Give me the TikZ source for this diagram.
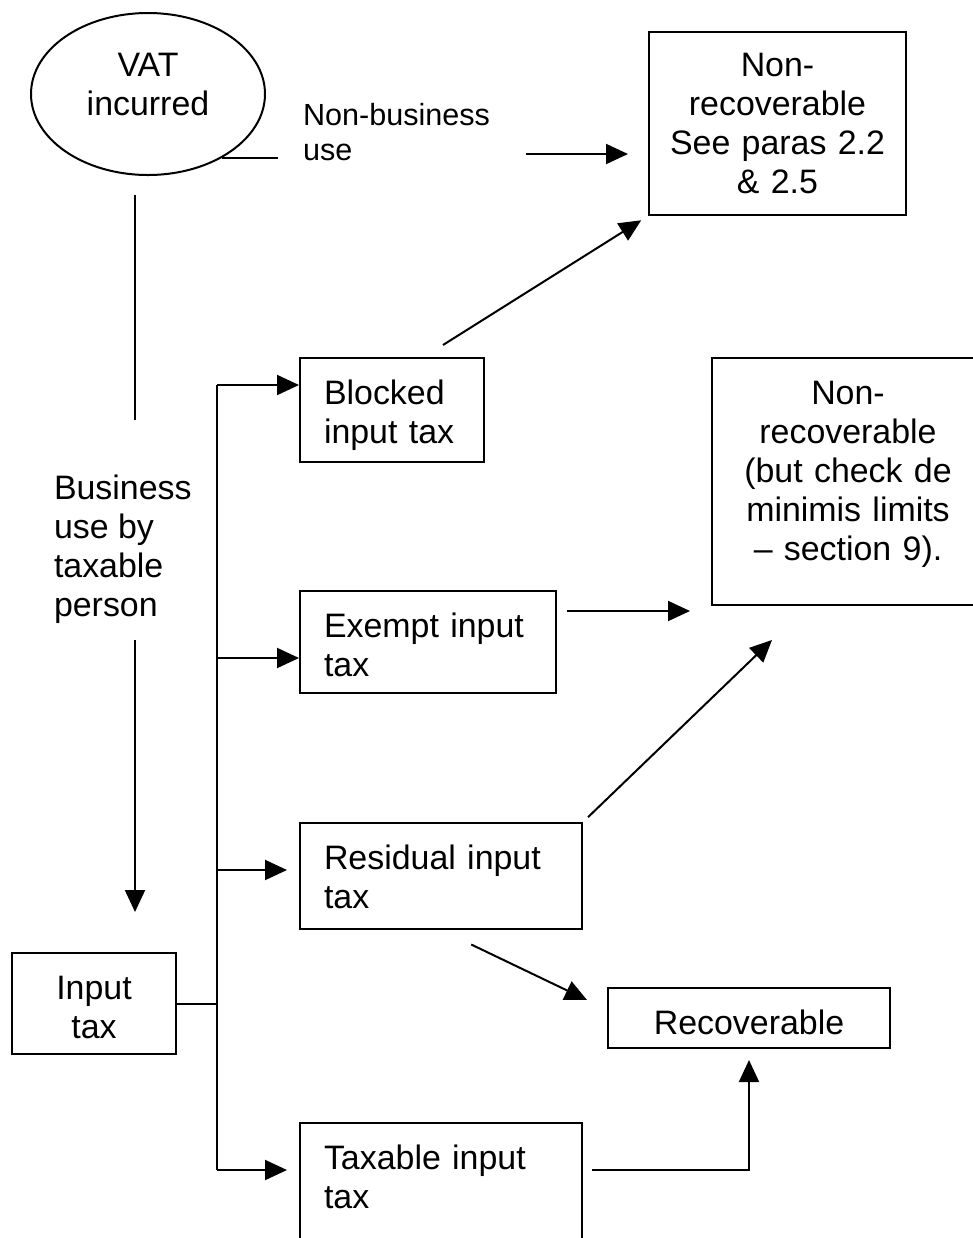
\documentclass[tikz,border=0pt]{standalone}
\usepackage{fontspec}
\setmainfont{Liberation Sans}
\usetikzlibrary{arrows.meta, shapes.geometric}

\tikzset{
  box/.style={draw, anchor=north west, inner xsep=4.8mm, inner ysep=0pt, text height=9.2mm, align=left},
  cbox/.style={box, inner xsep=0pt, align=center},
  arr/.style={-{Triangle[length=4.4mm,width=4mm]}},
  plain/.style={inner sep=0pt, align=left}
}

\begin{document}
\begin{tikzpicture}[x=0.2mm, y=-0.2mm, line width=0.4mm, font=\fontsize{19.3}{22.2}\selectfont]
\useasboundingbox (0,0) rectangle (972,1238);

% top: VAT incurred and non-business use
\node[draw, ellipse, inner sep=0pt, minimum width=46.8mm, minimum height=32.4mm] (vat) at (148,94) {};
\node[align=center, inner sep=0pt] (vattext) at (148,84) {VAT\\incurred};
\node[plain, anchor=north west, font=\fontsize{17.4}{19.9}\selectfont] (nbu) at (302,102) {Non-business\\use};
\node[cbox, text width=51.4mm, text height=8.8mm, text depth=27.8mm] (nr1) at (648,31) {Non-\\recoverable\\See paras 2.2\\\& 2.5};

% business use
\node[plain, anchor=north west] (business) at (53,474) {Business\\use by\\taxable\\person};
\node[cbox, text width=32.8mm, text depth=11mm] (input) at (11,952) {Input\\tax};

% the four kinds of input tax
\node[box, text width=27.2mm, text depth=11.6mm] (blocked) at (299,357) {Blocked\\input tax};
\node[box, text width=41.6mm, text depth=11.2mm] (exempt) at (299,590) {Exempt input\\tax};
\node[box, text width=46.8mm, text depth=12mm] (residual) at (299,822) {Residual input\\tax};
\node[box, text width=46.8mm, text depth=20mm] (taxable) at (299,1122) {Taxable input\\tax};

% outcomes
\node[cbox, text width=54.4mm, text depth=40.2mm] (nr2) at (711,357) {Non-\\recoverable\\(but check de\\minimis limits\\-- section 9).};
\node[cbox, text width=56.4mm, text depth=2.8mm] (recov) at (607,987) {Recoverable};

% free ends of the connectors
\coordinate (v1) at (135,195);
\coordinate (v2) at (135,420);
\coordinate (v3) at (135,640);
\coordinate (nb1) at (526,154);
\coordinate (bl1) at (443,345);
\coordinate (ex1) at (567,611);
\coordinate (nr2in) at (772,640);
\coordinate (recin) at (587,1000);
\coordinate (b1) at (217,385);
\coordinate (b2) at (217,658);
\coordinate (b3) at (217,870);
\coordinate (b4) at (217,1170);

\draw[shorten >=4.8mm] (vat.-41) -- (vat.-41 -| nbu.west);
\draw[arr, shorten >=4mm] (nb1) -- (nb1 -| nr1.west);
\draw[arr, shorten >=1.6mm] (bl1) -- (nr1.south west);

\draw (v1) -- (v2);
\draw[arr, shorten >=8mm] (v3) -- (v3 |- input.north);

\draw (input.east) -- (input.east -| b1);
\draw (b1) -- (b4);
\draw[arr] (b1) -- (b1 -| blocked.west);
\draw[arr] (b2) -- (b2 -| exempt.west);
\draw[arr, shorten >=2.4mm] (b3) -- (b3 -| residual.west);
\draw[arr, shorten >=2.4mm] (b4) -- (b4 -| taxable.west);

\draw[arr, shorten >=4.2mm] (ex1) -- (ex1 -| nr2.west);
\draw[arr, shorten <=1.4mm] (residual.north east) -- (nr2in);
\draw[arr, shorten <=6.7mm] (residual.south) -- (recin);
\draw[arr, shorten <=1.8mm, shorten >=2.2mm] (b4 -| taxable.east) -| (recov.south);
\end{tikzpicture}
\end{document}
